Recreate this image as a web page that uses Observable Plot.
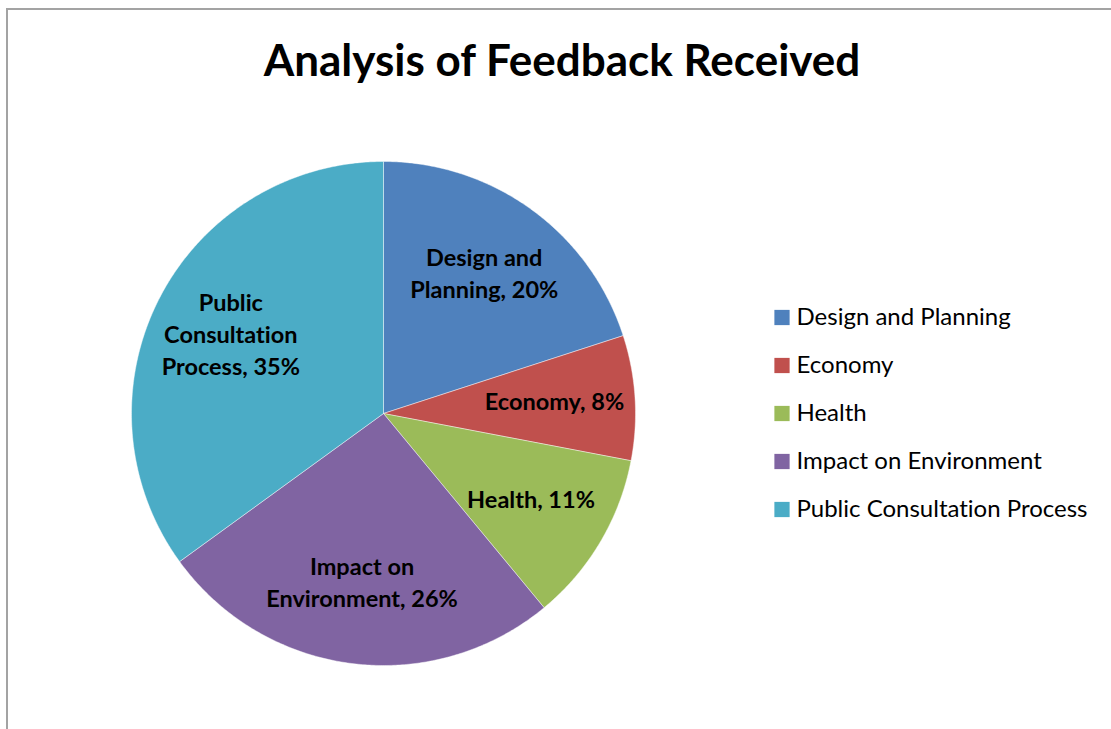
<!DOCTYPE html>
<html>
<head>
<meta charset="utf-8">
<script src="https://cdn.jsdelivr.net/npm/d3@7"></script>
<script src="https://cdn.jsdelivr.net/npm/@observablehq/plot@0.6"></script>
<style>
  html, body { margin: 0; padding: 0; background: #fff; }
  #wrap { position: relative; width: 1111px; height: 729px; overflow: hidden; font-family: Lato, "Open Sans", sans-serif; font-variant-ligatures: none; }
  #wrap svg text { font-variant-ligatures: none; }
  #frame { position: absolute; left: 6px; top: 8px; width: 1200px; height: 800px; border-left: 2px solid #a3a3a3; border-top: 2px solid #a3a3a3; }
  #title { position: absolute; left: 162px; width: 800px; top: 37px; text-align: center; font-weight: bold; font-size: 44px; color: #000; line-height: 1; }
  #pie, #legend { position: absolute; }
  #pie { left: 0; top: 0; }
  #legend { left: 760px; top: 290px; }
</style>
</head>
<body>
<div id="wrap">
  <div id="frame"></div>
  <div id="pie"></div>
  <div id="title">Analysis of Feedback Received</div>
  <div id="legend"></div>
</div>
<script>
const categories = ["Design and Planning", "Economy", "Health", "Impact on Environment", "Public Consultation Process"];
const values = [20, 8, 11, 26, 35];
const labelLines = [
  ["Design and", "Planning, 20%"],
  ["Economy, 8%"],
  ["Health, 11%"],
  ["Impact on", "Environment, 26%"],
  ["Public", "Consultation", "Process, 35%"]
];
const colors = ["#4F81BD", "#C0504D", "#9BBB59", "#8064A2", "#4BACC6"];

const color = {domain: categories, range: colors};

const arcs = d3.pie().sort(null).value(d => d.value)(categories.map((c, i) => ({category: c, value: values[i]})));

// slice polygons in unit-circle coordinates (angle 0 at 12 o'clock, clockwise)
const poly = [];
for (const a of arcs) {
  const c = a.data.category;
  poly.push({category: c, x: 0, y: 0});
  const n = Math.max(2, Math.ceil((a.endAngle - a.startAngle) / (Math.PI / 360)));
  for (let k = 0; k <= n; k++) {
    const t = a.startAngle + (a.endAngle - a.startAngle) * k / n;
    poly.push({category: c, x: Math.sin(t), y: Math.cos(t)});
  }
  poly.push({category: c, x: 0, y: 0});
}

// labels at ~0.68 radius along mid-angle
const lineH = 0.127; // in unit radius
const labels = [];
arcs.forEach((a, i) => {
  const m = (a.startAngle + a.endAngle) / 2;
  const r = 0.68;
  const cx = r * Math.sin(m), cy = r * Math.cos(m);
  const lines = labelLines[i];
  lines.forEach((txt, j) => {
    labels.push({text: txt, x: cx, y: cy - (j - (lines.length - 1) / 2) * lineH});
  });
});

const cx0 = 383, cy0 = 413, R = 252;
const pie = Plot.plot({
  width: 1111, height: 729, margin: 0,
  x: {domain: [-1, 1], range: [cx0 - R, cx0 + R], axis: null},
  y: {domain: [-1, 1], range: [cy0 + R, cy0 - R], axis: null},
  color,
  style: {background: "transparent", overflow: "visible"},
  marks: [
    Plot.line(poly, {x: "x", y: "y", z: "category", fill: "category", stroke: "white", strokeWidth: 0.8, strokeOpacity: 0.55, curve: "linear"}),
    Plot.text(labels, {x: "x", y: "y", text: "text", fill: "black", fontWeight: "bold", fontSize: 23.5, fontFamily: "Lato, 'Open Sans', sans-serif", textAnchor: "middle", lineAnchor: "middle"})
  ]
});
document.getElementById("pie").appendChild(pie);

const legend = Plot.plot({
  width: 351, height: 240, margin: 0,
  x: {domain: [0, 351], range: [0, 351], axis: null},
  y: {type: "point", domain: categories, range: [26.5, 219.5], padding: 0, axis: null},
  color,
  style: {background: "transparent", overflow: "visible"},
  marks: [
    Plot.dot(categories, {x: () => 21.5, y: d => d, symbol: "square", r: 8.6, fill: d => d, stroke: null}),
    Plot.text(categories, {x: () => 36, y: d => d, text: d => d, textAnchor: "start", fill: "black", fontSize: 24, fontFamily: "Lato, 'Open Sans', sans-serif", lineAnchor: "middle"})
  ]
});
document.getElementById("legend").appendChild(legend);
</script>
</body>
</html>
